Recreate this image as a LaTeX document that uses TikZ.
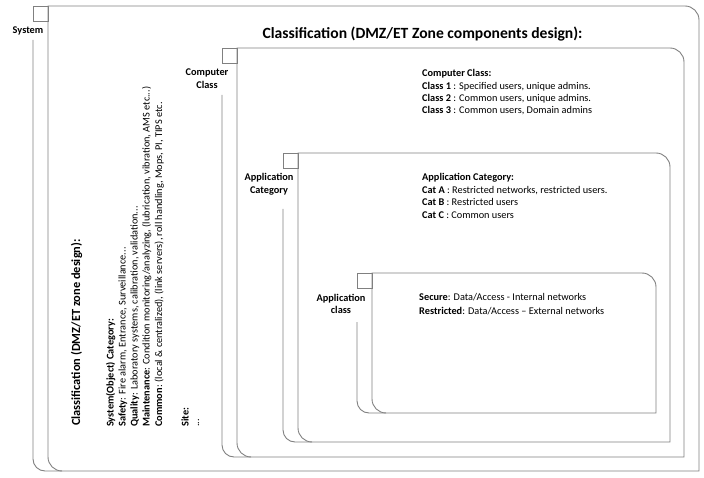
\documentclass[tikz,border=0pt]{standalone}
\usepackage{fontspec}
\setmainfont{Carlito}
\definecolor{framec}{RGB}{128,128,128}
\tikzset{
  frameline/.style={draw=framec, line width=0.9pt},
  bodytxt/.style={inner sep=0pt, anchor=base west, font=\fontsize{10.3}{12.4}\selectfont},
  labeltxt/.style={inner sep=0pt, align=center, font=\fontsize{10.3}{12.8}\selectfont\bfseries},
  rottxt/.style={inner sep=0pt, anchor=base west, rotate=90, font=\fontsize{10.3}{12.4}\selectfont},
}
% #1 back x, #2 front x, #3 top, #4 right, #5 bottom, #6 start of lower back strip
\newcommand\zonebox[6]{%
  \draw[frameline] (#2,-#3) -- ({#4-14},-#3) arc[start angle=90,end angle=0,radius=14]
     -- (#4,-#5) -- ({#2+14},-#5) arc[start angle=270,end angle=180,radius=14] -- cycle;
  \draw[frameline] (#1,-#6) -- (#1,{-#5+12}) arc[start angle=180,end angle=270,radius=12] -- ({#2+14},-#5);
  \draw[frameline] (#1,-#3) rectangle (#2,{-#3-15});
}
\begin{document}
\begin{tikzpicture}[x=1pt,y=1pt]
\useasboundingbox (0,0) rectangle (704,-478);

% containers
\zonebox{33}{48}{6}{699}{471}{40}
\zonebox{222}{237}{48}{684}{457}{95}
\zonebox{283}{298}{153}{670}{442}{209}
\zonebox{357}{372}{273}{656}{413}{322}

% container labels
\node[labeltxt] (lsys) at (28,-31) {System};
\node[labeltxt] (lcc) at (207,-79) {Computer\\Class};
\node[labeltxt] (lac) at (269,-184.5) {Application\\Category};
\node[labeltxt] (lacl) at (341,-304) {Application\\class};

% main title
\node[inner sep=0pt, anchor=base, font=\fontsize{15.6}{18}\selectfont\bfseries] (title) at (422.5,-38.5)
  {Classification (DMZ/ET Zone components design):};

% computer class text
\node[bodytxt] (cc0) at (422,-77) {\textbf{Computer Class:}};
\node[bodytxt] (cc1) at (422,-89.5) {\textbf{Class 1} : Specified users, unique admins.};
\node[bodytxt] (cc2) at (422,-102) {\textbf{Class 2} : Common users, unique admins.};
\node[bodytxt] (cc3) at (422,-114) {\textbf{Class 3} : Common users, Domain admins};

% application category text
\node[bodytxt] (ac0) at (422,-181) {\textbf{Application Category:}};
\node[bodytxt] (ac1) at (422,-193.5) {\textbf{Cat A} : Restricted networks, restricted users.};
\node[bodytxt] (ac2) at (422,-206) {\textbf{Cat B} : Restricted users};
\node[bodytxt] (ac3) at (422,-218.5) {\textbf{Cat C} : Common users};

% application class text
\node[bodytxt] (ap1) at (419,-301) {\textbf{Secure}: Data/Access - Internal networks};
\node[bodytxt] (ap2) at (419,-314) {\textbf{Restricted}: Data/Access – External networks};

% rotated text in system container
\node[rottxt, font=\fontsize{12.4}{14}\selectfont\bfseries] (rt0) at (80,-426) {Classification (DMZ/ET zone design):};
\node[rottxt] (r1) at (113.5,-427) {\textbf{System(Object) Category:}};
\node[rottxt] (r2) at (125.5,-427) {\textbf{Safety}: Fire alarm, Entrance, Surveillance...};
\node[rottxt] (r3) at (137.5,-427) {\textbf{Quality}: Laboratory systems, calibration, validation...};
\node[rottxt] (r4) at (149.5,-427) {\textbf{Maintenance}: Condition monitoring/analyzing, (lubrication, vibration, AMS etc...)};
\node[rottxt] (r5) at (162,-427) {\textbf{Common}: (local \& centralized), (link servers), roll handling, Mops, PI, TIPS etc.};
\node[rottxt] (r6) at (188.5,-427) {\textbf{Site:}};
\node[rottxt] (r7) at (199,-427) {...};
\end{tikzpicture}
\end{document}
